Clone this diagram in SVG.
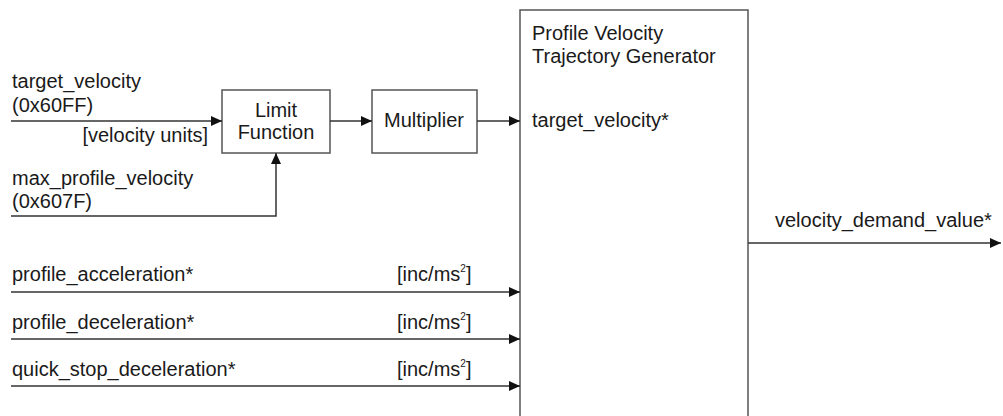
<svg xmlns="http://www.w3.org/2000/svg" width="1003" height="416" viewBox="0 0 1003 416">
<defs>
<style>
text{font-family:"Liberation Sans",Arial,sans-serif;font-size:20px;fill:#1a1a1a}
.c{text-anchor:middle}
.e{text-anchor:end}
.box{fill:#fff;stroke:#555;stroke-width:1.5}
.ln{fill:none;stroke:#333;stroke-width:1.5}
.sup{font-size:10px}
</style>
<marker id="ah" viewBox="0 0 11 10" refX="11" refY="5" markerWidth="11" markerHeight="10" markerUnits="userSpaceOnUse" orient="auto">
<path d="M0,0 L11,5 L0,10 Z" fill="#111"/>
</marker>
</defs>
<rect width="1003" height="416" fill="#fff"/>
<g id="generator">
<rect class="box" x="520" y="10" width="228" height="420"/>
<text x="532" y="40">Profile Velocity</text>
<text x="532" y="63">Trajectory Generator</text>
<text x="532" y="127">target_velocity*</text>
</g>
<g id="limit">
<rect class="box" x="222" y="90" width="108" height="63"/>
<text class="c" x="276" y="117">Limit</text>
<text class="c" x="276" y="139">Function</text>
</g>
<g id="multiplier">
<rect class="box" x="372" y="90" width="105" height="63"/>
<text class="c" x="424" y="127">Multiplier</text>
</g>
<g id="connectors">
<line class="ln" x1="11" y1="121" x2="222" y2="121" marker-end="url(#ah)"/>
<polyline class="ln" points="11,216 276,216 276,153" marker-end="url(#ah)"/>
<line class="ln" x1="330" y1="121" x2="372" y2="121" marker-end="url(#ah)"/>
<line class="ln" x1="477" y1="121" x2="520" y2="121" marker-end="url(#ah)"/>
<line class="ln" x1="11" y1="292" x2="520" y2="292" marker-end="url(#ah)"/>
<line class="ln" x1="11" y1="339" x2="520" y2="339" marker-end="url(#ah)"/>
<line class="ln" x1="11" y1="386" x2="520" y2="386" marker-end="url(#ah)"/>
<line class="ln" x1="748" y1="243" x2="1001" y2="243" marker-end="url(#ah)"/>
</g>
<g id="labels">
<text x="12" y="88">target_velocity</text>
<text x="12" y="112">(0x60FF)</text>
<text class="e" x="208" y="142">[velocity units]</text>
<text x="12" y="185">max_profile_velocity</text>
<text x="12" y="208">(0x607F)</text>
<text x="12" y="281">profile_acceleration*</text>
<text x="12" y="329">profile_deceleration*</text>
<text x="12" y="376">quick_stop_deceleration*</text>
<text x="397" y="281">[inc/ms<tspan class="sup" dy="-9">2</tspan><tspan dy="9">]</tspan></text>
<text x="397" y="329">[inc/ms<tspan class="sup" dy="-9">2</tspan><tspan dy="9">]</tspan></text>
<text x="397" y="376">[inc/ms<tspan class="sup" dy="-9">2</tspan><tspan dy="9">]</tspan></text>
<text x="775" y="227">velocity_demand_value*</text>
</g>
</svg>
